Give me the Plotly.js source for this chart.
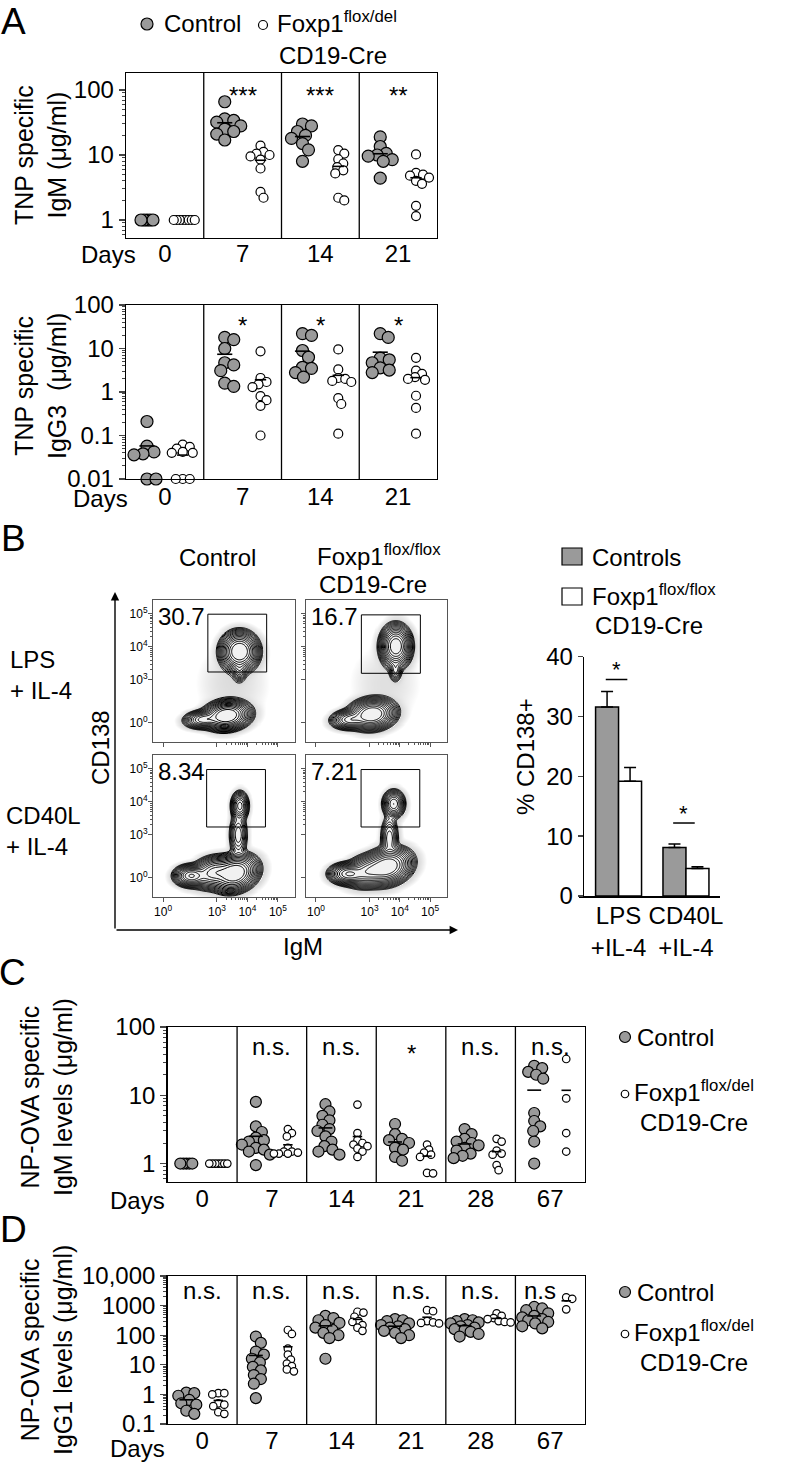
<!DOCTYPE html>
<html><head><meta charset="utf-8">
<script src="https://cdn.plot.ly/plotly-3.0.1.min.js"></script>
<style>html,body{margin:0;padding:0;background:#fff}#chart{width:793px;height:1466px}</style>
</head><body><div id="chart"></div>
<script>
// ================= DATA =================
// Panel A (TNP specific, µg/ml)
const daysA = ['0', '7', '14', '21'];
const sigA1 = ['', '***', '***', '**'];
const A1_control = [[1,1,1,1,1],[66,36,34,32,28,25,23,21,17],[30,28,23,20,18,15,12,8],[19,13.5,10.6,10,9.6,8.5,8,4.4]];
const A1_foxp1   = [[1,1,1,1,1,1,1,1],[13.9,11.2,10.5,10,9.5,8.5,6.2,2.7,2.2],[11.9,10.5,8.6,7.4,6.5,5.8,5.2,2.2,2.0],[10.2,5.3,5.0,4.8,4.5,4.0,3.6,1.65,1.15]];
const sigA2 = ['', '*', '*', '*'];
const A2_control = [[0.21,0.057,0.042,0.038,0.036,0.01,0.01],[18,16,10,4.7,4.2,3.1,1.6,1.35],[22,20,9,6.3,3.7,3.5,2.8,2.2],[22,18,6.0,5.5,4.7,3.6,3.2,2.8]];
const A2_foxp1   = [[0.062,0.055,0.05,0.042,0.04,0.04,0.01,0.01,0.01],[8.6,2.1,1.7,1.5,1.3,0.8,0.65,0.48,0.1],[9.5,3.3,2.1,2.0,1.8,1.7,0.72,0.53,0.11],[6.1,3.1,2.6,2.2,2.0,1.9,0.82,0.43,0.11]];

// Panel B flow plots
const flowPercent = ['30.7', '16.7', '8.34', '7.21'];
// gates: [xmin, xmax, ymin, ymax] in display units
const flowGates = [[2.70,4.63,3.24,4.99],[2.73,4.68,3.20,4.97],[2.66,4.59,3.24,4.98],[2.72,4.66,3.24,4.98]];
// cell populations: [centerX, centerY, sdX, sdY, angle(rad), relative peak density]
const popsCtrlLPS  = [[3.74,3.86,0.24,0.23,0,1],[3.74,3.30,0.10,0.15,0,0.10],[3.32,1.92,0.30,0.17,0.1,1],[2.55,1.80,0.25,0.11,0.05,0.35],[3.5,2.9,0.5,0.5,0,0.004]];
const popsFoxLPS   = [[3.87,4.02,0.20,0.25,0,0.85],[3.86,3.30,0.09,0.15,0,0.08],[3.08,1.96,0.30,0.18,0.1,1],[2.35,1.80,0.25,0.12,0.05,0.35],[3.5,2.9,0.5,0.5,0,0.003]];
const popsCtrlCD40 = [[3.59,1.84,0.30,0.21,0.3,1],[2.15,1.76,0.22,0.13,0,0.6],[2.90,1.86,0.30,0.19,0.2,0.5],[3.75,3.88,0.12,0.18,0,0.25],[3.70,3.00,0.13,0.30,0,0.1]];
const popsFoxCD40  = [[3.59,2.04,0.32,0.21,0.25,1],[2.30,1.82,0.25,0.13,0,0.6],[2.95,1.90,0.30,0.19,0.2,0.5],[3.80,3.94,0.15,0.17,0,0.3],[3.66,2.90,0.13,0.30,0,0.1]];
const flowXTicks = [1.23, 3, 4, 5];
const flowYTicks = [1.70, 3, 4, 5];
const flowTickText = ['10<sup>0</sup>', '10<sup>3</sup>', '10<sup>4</sup>', '10<sup>5</sup>'];

// Panel B bar chart (% CD138+)
const barCats = ['LPS<br>+IL-4', 'CD40L<br>+IL-4'];
const barControl = [31.6, 8.1];
const barControlErr = [2.6, 0.6];
const barFoxp1 = [19.2, 4.6];
const barFoxp1Err = [2.3, 0.3];
const barSig = ['*', '*'];
const barSigLevel = [36.2, 12.2];

// Panel C (NP-OVA IgM)
const daysCD = ['0', '7', '14', '21', '28', '67'];
const sigC = ['', 'n.s.', 'n.s.', '*', 'n.s.', 'n.s.'];
const C_control = [[1,1,1,1,1],[8,3.5,2.9,2.4,2.2,2.1,1.9,1.7,1.6,1.5,1.35,0.95],[7.4,5.8,5,4.3,3.7,3.2,3.0,2.5,2.1,1.8,1.6,1.5,1.35],[3.8,2.7,2.3,2.2,2.0,1.7,1.6,1.25,1.1],[3.2,2.7,2.3,2.1,2.0,1.85,1.7,1.55,1.4,1.3,1.2],[27,25,22,20,17.5,5.5,4.2,3.5,3.0,2.1,1.0]];
const C_foxp1   = [[1,1,1,1,1,1,1],[3.2,2.8,2.5,1.7,1.5,1.5,1.45,1.4,1.4,1.4],[7.3,2.8,2.2,2.0,1.9,1.8,1.65,1.5,1.25],[1.9,1.6,1.45,1.35,1.25,0.73,0.72],[2.3,2.1,1.55,1.4,1.35,0.95,0.8],[34,9,2.8,1.5]];

// Panel D (NP-OVA IgG1)
const sigD = ['n.s.', 'n.s.', 'n.s.', 'n.s.', 'n.s.', 'n.s'];
const D_control = [[1.15,1.1,0.9,0.65,0.5,0.45,0.28,0.22],[90,55,28,22,16,12,8.5,6.5,4.5,3.3,2.3,0.75],[450,380,320,260,220,180,150,120,100,80,16],[350,320,300,250,220,200,180,160,140,120,100,80],[350,320,300,270,250,220,200,180,160,150,130,110,90],[900,800,700,550,450,400,350,320,280,250,200,170]];
const D_foxp1   = [[1.1,1.1,1.0,0.5,0.45,0.4,0.25,0.22],[150,110,35,22,15,11,9,7,6],[620,580,420,300,280,220,180,140],[700,650,300,270,260,250],[550,450,380,350,300,280,270],[1900,1700,750]];

// ================= BUILD =================
const F = 'Liberation Sans, Arial, Helvetica, sans-serif';
const W = 793, H = 1466;
const PX = x => x / W, PY = y => 1 - y / H;
const GREY = '#9a9a9a';
const data = [], shapes = [], annotations = [];
const layout = {width: W, height: H, margin: {l: 0, r: 0, t: 0, b: 0}, showlegend: false,
  paper_bgcolor: '#fff', plot_bgcolor: 'rgba(0,0,0,0)', font: {family: F, size: 24, color: '#000'},
  shapes, annotations, bargap: 0.318, bargroupgap: 0};

function ann(text, x, y, o) {
  annotations.push(Object.assign({text, x: PX(x), y: PY(y), xref: 'paper', yref: 'paper', showarrow: false,
    xanchor: 'center', yanchor: 'middle', font: {family: F, size: 24, color: '#000'}}, o || {}));
}
function circ(cx, cy, d, fill) {
  shapes.push({type: 'circle', xref: 'paper', yref: 'paper', x0: PX(cx - d / 2), x1: PX(cx + d / 2),
    y0: PY(cy + d / 2), y1: PY(cy - d / 2), fillcolor: fill, line: {color: '#000', width: 1.2}});
}
function swarm(vals, ypx, minD, maxOff) {
  const placed = [], offs = new Array(vals.length);
  const order = vals.map((v, i) => i).sort((a, b) => vals[b] - vals[a]);
  for (const i of order) {
    const y = ypx(vals[i]);
    let best = 0, bestScore = -1;
    for (let k = 0; k <= 2 * maxOff; k++) {
      const o = (k % 2 ? 1 : -1) * Math.ceil(k / 2);
      let md = Infinity;
      for (const p of placed) { const d = Math.hypot(p[0] - o, p[1] - y); if (d < md) md = d; }
      if (md >= minD) { best = o; break; }
      if (md > bestScore) { bestScore = md; best = o; }
    }
    placed.push([best, y]); offs[i] = best;
  }
  return offs;
}
function minorVals(r) {
  const out = [];
  for (let d = Math.floor(r[0]); d <= Math.ceil(r[1]); d++)
    for (let k = 2; k <= 9; k++) { const v = k * Math.pow(10, d); const l = Math.log10(v); if (l > r[0] && l < r[1]) out.push(v); }
  return out;
}

function dotPanel(p) {
  const n = p.days.length, seg = (p.R - p.L) / n;
  const ypx = v => p.B - (Math.log10(v) - p.yr[0]) / (p.yr[1] - p.yr[0]) * (p.B - p.T);
  const groups = [{vals: p.ctrl, pos: 0.27, size: p.sc, fill: GREY}, {vals: p.foxp, pos: 0.73, size: p.sf, fill: '#fff'}];
  groups.forEach(g => {
    const xs = [], ys = [], mx = [], my = [];
    g.vals.forEach((vals, i) => {
      const same = vals.every(v => v === vals[0]);
      const offs = swarm(vals, ypx, same ? 2.5 : g.size * 0.72, Math.round(seg * 0.2));
      vals.forEach((v, j) => { xs.push(i + g.pos + offs[j] / seg); ys.push(v); });
      if (!same) { mx.push(i + g.pos); my.push(vals.reduce((a, b) => a + b, 0) / vals.length); }
    });
    data.push({type: 'scatter', mode: 'markers', x: xs, y: ys, xaxis: p.xa, yaxis: p.ya, cliponaxis: false,
      marker: {size: g.size, color: g.fill, line: {color: '#000', width: 1.2}}, hoverinfo: 'y'});
    data.push({type: 'scatter', mode: 'markers', x: mx, y: my, xaxis: p.xa, yaxis: p.ya, cliponaxis: false,
      marker: {symbol: 'line-ew', size: g.size * 0.9, line: {color: '#000', width: 1.6}}, hoverinfo: 'y'});
  });
  const xk = 'xaxis' + p.xa.slice(1), yk = 'yaxis' + p.ya.slice(1);
  layout[xk] = {domain: [PX(p.L), PX(p.R)], range: [0, n], anchor: p.ya, showline: true, mirror: true,
    linecolor: '#000', linewidth: 1.3, ticks: '', ticklen: 0, tickmode: 'array', tickvals: p.days.map((d, i) => i + 0.5), ticktext: p.days,
    tickfont: {family: F, size: 24}, showgrid: false, zeroline: false, fixedrange: true, ticklabelstandoff: p.stand};
  layout[yk] = {domain: [PY(p.B), PY(p.T)], type: 'log', range: p.yr, anchor: p.xa, showline: true, mirror: true,
    linecolor: '#000', linewidth: 1.3, ticks: 'outside', ticklen: 6, tickwidth: 1.3, tickmode: 'array',
    tickvals: p.yt, ticktext: p.ytt, tickfont: {family: F, size: 24}, showgrid: false, zeroline: false, fixedrange: true,
    minor: {ticks: 'outside', ticklen: 3, tickwidth: 1, tickmode: 'array', tickvals: minorVals(p.yr), showgrid: false}};
  for (let i = 1; i < n; i++)
    shapes.push({type: 'line', xref: p.xa, yref: p.ya + ' domain', x0: i, x1: i, y0: 0, y1: 1, line: {color: '#000', width: 1.3}});
  p.sig.forEach((s, i) => {
    if (!s) return;
    const star = s[0] === '*';
    annotations.push({text: s, xref: p.xa, x: i + 0.5 + (p.sigDx ? p.sigDx[i] : 0), yref: 'paper', y: PY(p.sigY + (star ? 7 : 0)),
      showarrow: false, xanchor: 'center', yanchor: 'middle', font: {family: F, size: 24, color: '#000'}});
  });
  ann('Days', p.daysX, p.daysY);
  ann(p.title, p.titleX, p.titleY, {textangle: -90, font: {family: F, size: 25, color: '#000'}});
}

// ---- Panel A ----
dotPanel({xa: 'x', ya: 'y', L: 126, R: 437, T: 73, B: 238, yr: [-0.277, 2.2615], days: daysA, sig: sigA1,
  ctrl: A1_control, foxp: A1_foxp1, sc: 12, sf: 9, yt: [1, 10, 100], ytt: ['1', '10', '100'], stand: -6,
  sigY: 89, daysX: 108, daysY: 254, title: 'TNP specific<br>IgM (μg/ml)', titleX: 41, titleY: 155});
dotPanel({xa: 'x2', ya: 'y2', L: 126, R: 437, T: 305, B: 479, yr: [-2, 2], days: daysA, sig: sigA2,
  ctrl: A2_control, foxp: A2_foxp1, sc: 12, sf: 9, yt: [0.01, 0.1, 1, 10, 100], ytt: ['0.01', '0.1', '1', '10', '100'], stand: -4,
  sigY: 319, daysX: 100, daysY: 498, title: 'TNP specific<br>IgG3  (μg/ml)', titleX: 41, titleY: 386});
ann('A', 13, 21, {font: {family: F, size: 37, color: '#000'}});
circ(147, 24, 12, GREY); ann('Control', 162, 24, {xanchor: 'left'});
circ(263, 25, 9, '#fff'); ann('Foxp1<sup>flox/del</sup>', 275, 22, {xanchor: 'left'});
ann('CD19-Cre', 277, 55, {xanchor: 'left'});

// ---- Panel B flow ----
function flowGrid(pops) {
  const xs = [], ys = [];
  for (let i = 0; i <= 140; i++) xs.push(0.9 + i * (5.56 - 0.9) / 140);
  for (let j = 0; j <= 130; j++) ys.push(1.12 + j * (5.42 - 1.12) / 130);
  let zmax = -Infinity;
  const z = ys.map(y => xs.map(x => {
    let s = 0;
    pops.forEach(([mx, my, sx, sy, a, pk]) => {
      const dx = x - mx, dy = y - my;
      const u = (dx * Math.cos(a) + dy * Math.sin(a)) / sx, v = (-dx * Math.sin(a) + dy * Math.cos(a)) / sy;
      s += pk * Math.exp(-0.5 * (u * u + v * v));
    });
    const lz = Math.log(s + 1e-12); if (lz > zmax) zmax = lz; return lz;
  }));
  return {xs, ys, z, zmax};
}
const flowMinor = [];
[3, 4].forEach(d => { for (let k = 2; k <= 9; k++) flowMinor.push(d + Math.log10(k)); });
const flowCells = [
  {xa: 'x3', ya: 'y3', L: 153, R: 295, T: 600, B: 742, pops: popsCtrlLPS, xl: false, yl: true},
  {xa: 'x4', ya: 'y4', L: 306, R: 447, T: 600, B: 742, pops: popsFoxLPS, xl: false, yl: false},
  {xa: 'x5', ya: 'y5', L: 153, R: 295, T: 755, B: 897, pops: popsCtrlCD40, xl: true, yl: true},
  {xa: 'x6', ya: 'y6', L: 306, R: 447, T: 755, B: 897, pops: popsFoxCD40, xl: true, yl: false}];
flowCells.forEach((c, i) => {
  const g0 = flowGrid(c.pops);
  // faint haze of individual events around the contours
  const haze = g0.z.map(r => r.map(v => { const d = v - g0.zmax; return d > -5 ? 0.35 : (d > -8.5 ? (d + 8.5) / 3.5 : 0); }));
  data.push({type: 'heatmap', x: g0.xs, y: g0.ys, z: haze, xaxis: c.xa, yaxis: c.ya, showscale: false, hoverinfo: 'skip',
    zmin: 0, zmax: 1, zsmooth: 'best', colorscale: [[0, 'rgba(0,0,0,0)'], [1, 'rgba(0,0,0,0.16)']]});
  data.push({type: 'contour', x: g0.xs, y: g0.ys, z: g0.z, xaxis: c.xa, yaxis: c.ya, showscale: false, hoverinfo: 'skip',
    autocontour: false, contours: {coloring: 'lines', start: g0.zmax - 5.0, end: g0.zmax - 0.3, size: 0.34},
    colorscale: [[0, '#000'], [1, '#000']], line: {width: 1, smoothing: 1}});
  const ax = {showline: true, mirror: true, linecolor: '#555', linewidth: 1, ticks: 'outside', ticklen: 4, tickcolor: '#555',
    tickmode: 'array', ticktext: flowTickText, tickfont: {family: F, size: 12, color: '#000'}, showgrid: false, zeroline: false, fixedrange: true,
    minor: {ticks: 'outside', ticklen: 2, tickcolor: '#555', tickmode: 'array', tickvals: flowMinor}};
  layout['xaxis' + c.xa.slice(1)] = Object.assign({}, ax, {domain: [PX(c.L), PX(c.R)], range: [0.9, 5.56], anchor: c.ya,
    tickvals: flowXTicks, showticklabels: c.xl});
  layout['yaxis' + c.ya.slice(1)] = Object.assign({}, ax, {domain: [PY(c.B), PY(c.T)], range: [1.12, 5.42], anchor: c.xa,
    tickvals: flowYTicks, showticklabels: c.yl, ticklabelstandoff: -2});
  const g = flowGates[i];
  shapes.push({type: 'rect', xref: c.xa, yref: c.ya, x0: g[0], x1: g[1], y0: g[2], y1: g[3], line: {color: '#000', width: 1}});
  ann(flowPercent[i], c.L + 3, c.T + 16, {xanchor: 'left'});
});
ann('B', 13, 538, {font: {family: F, size: 37, color: '#000'}});
ann('Control', 218, 557);
ann('Foxp1<sup>flox/flox</sup>', 315, 555, {xanchor: 'left'});
ann('CD19-Cre', 317, 585, {xanchor: 'left'});
ann('LPS<br>+ IL-4', 8, 675, {xanchor: 'left', align: 'left'});
ann('CD40L<br>+ IL-4', 4, 831, {xanchor: 'left', align: 'left'});
ann('CD138', 100, 748, {textangle: -90});
ann('IgM', 303, 946);
annotations.push({text: '', x: PX(115), y: PY(592), xref: 'paper', yref: 'paper', showarrow: true, ax: 0, ay: 338,
  axref: 'pixel', ayref: 'pixel', arrowhead: 2, arrowsize: 1.2, arrowwidth: 1.4, arrowcolor: '#000'});
annotations.push({text: '', x: PX(458), y: PY(930), xref: 'paper', yref: 'paper', showarrow: true, ax: -343, ay: 0,
  axref: 'pixel', ayref: 'pixel', arrowhead: 2, arrowsize: 1.2, arrowwidth: 1.4, arrowcolor: '#000'});

// ---- Panel B bar ----
data.push({type: 'bar', x: [0, 1], y: barControl, xaxis: 'x7', yaxis: 'y7', marker: {color: GREY, line: {color: '#000', width: 1.5}},
  error_y: {type: 'data', array: barControlErr, arrayminus: [0, 0], symmetric: false, color: '#000', thickness: 1.5, width: 6}});
data.push({type: 'bar', x: [0, 1], y: barFoxp1, xaxis: 'x7', yaxis: 'y7', marker: {color: '#fff', line: {color: '#000', width: 1.5}},
  error_y: {type: 'data', array: barFoxp1Err, arrayminus: [0, 0], symmetric: false, color: '#000', thickness: 1.5, width: 6}});
layout.barmode = 'group';
layout.xaxis7 = {domain: [PX(579), PX(720)], range: [-0.587, 1.505], anchor: 'y7', showline: true, linecolor: '#000', linewidth: 1.5,
  ticks: '', ticklen: 0, ticklabelstandoff: -2, tickmode: 'array', tickvals: [0, 1], ticktext: barCats, tickfont: {family: F, size: 24},
  showgrid: false, zeroline: false, fixedrange: true};
layout.yaxis7 = {domain: [PY(896), PY(656.7)], range: [0, 40], anchor: 'free', position: PX(582.7), showline: true, linecolor: '#000', linewidth: 1.5,
  ticks: 'outside', ticklen: 5, tickwidth: 1.5, tickmode: 'array', tickvals: [0, 10, 20, 30, 40], tickfont: {family: F, size: 24},
  showgrid: false, zeroline: false, fixedrange: true};
barSig.forEach((s, i) => {
  shapes.push({type: 'line', xref: 'x7', yref: 'y7', x0: i - 0.19, x1: i + 0.13, y0: barSigLevel[i], y1: barSigLevel[i], line: {color: '#000', width: 1.5}});
  annotations.push({text: s, xref: 'x7', yref: 'y7', x: i - 0.03, y: barSigLevel[i] + 1.6, showarrow: false, yanchor: 'middle',
    font: {family: F, size: 22, color: '#000'}});
});
ann('% CD138+', 525, 757, {textangle: -90});
shapes.push({type: 'rect', xref: 'paper', yref: 'paper', x0: PX(562), x1: PX(582), y0: PY(565), y1: PY(548), fillcolor: GREY, line: {color: '#000', width: 1.2}});
shapes.push({type: 'rect', xref: 'paper', yref: 'paper', x0: PX(562), x1: PX(582), y0: PY(605), y1: PY(588), fillcolor: '#fff', line: {color: '#000', width: 1.2}});
ann('Controls', 590, 557, {xanchor: 'left'});
ann('Foxp1<sup>flox/flox</sup>', 590, 595, {xanchor: 'left'});
ann('CD19-Cre', 593, 625, {xanchor: 'left'});

// ---- Panel C ----
dotPanel({xa: 'x8', ya: 'y8', L: 167.5, R: 585, T: 1027, B: 1182, yr: [-0.27, 2], days: daysCD, sig: sigC,
  ctrl: C_control, foxp: C_foxp1, sc: 11, sf: 7.5, yt: [1, 10, 100], ytt: ['1', '10', '100'], stand: -5,
  sigY: 1046, daysX: 137, daysY: 1200, title: 'NP-OVA specific<br>IgM levels (μg/ml)', titleX: 46, titleY: 1097});
ann('C', 12, 972, {font: {family: F, size: 37, color: '#000'}});
circ(625, 1037, 11, GREY); ann('Control', 635, 1037, {xanchor: 'left'});
circ(625, 1094, 7.5, '#fff'); ann('Foxp1<sup>flox/del</sup>', 632, 1091, {xanchor: 'left'});
ann('CD19-Cre', 638, 1122, {xanchor: 'left'});

// ---- Panel D ----
dotPanel({xa: 'x9', ya: 'y9', L: 167.5, R: 585, T: 1276, B: 1424, yr: [-1, 4], days: daysCD, sig: sigD,
  ctrl: D_control, foxp: D_foxp1, sc: 11, sf: 7.5, yt: [0.1, 1, 10, 100, 1000, 10000], ytt: ['0.1', '1', '10', '100', '1000', '10,000'], stand: -5,
  sigY: 1290, sigDx: [0, 0, 0, 0, 0, -0.15], daysX: 137, daysY: 1448, title: 'NP-OVA specific<br>IgG1 levels (μg/ml)', titleX: 46, titleY: 1350});
ann('D', 13, 1229, {font: {family: F, size: 37, color: '#000'}});
circ(625, 1292, 11, GREY); ann('Control', 635, 1292, {xanchor: 'left'});
circ(625, 1334, 7.5, '#fff'); ann('Foxp1<sup>flox/del</sup>', 632, 1331, {xanchor: 'left'});
ann('CD19-Cre', 638, 1362, {xanchor: 'left'});

Plotly.newPlot('chart', data, layout, {staticPlot: true});
</script>
</body></html>
